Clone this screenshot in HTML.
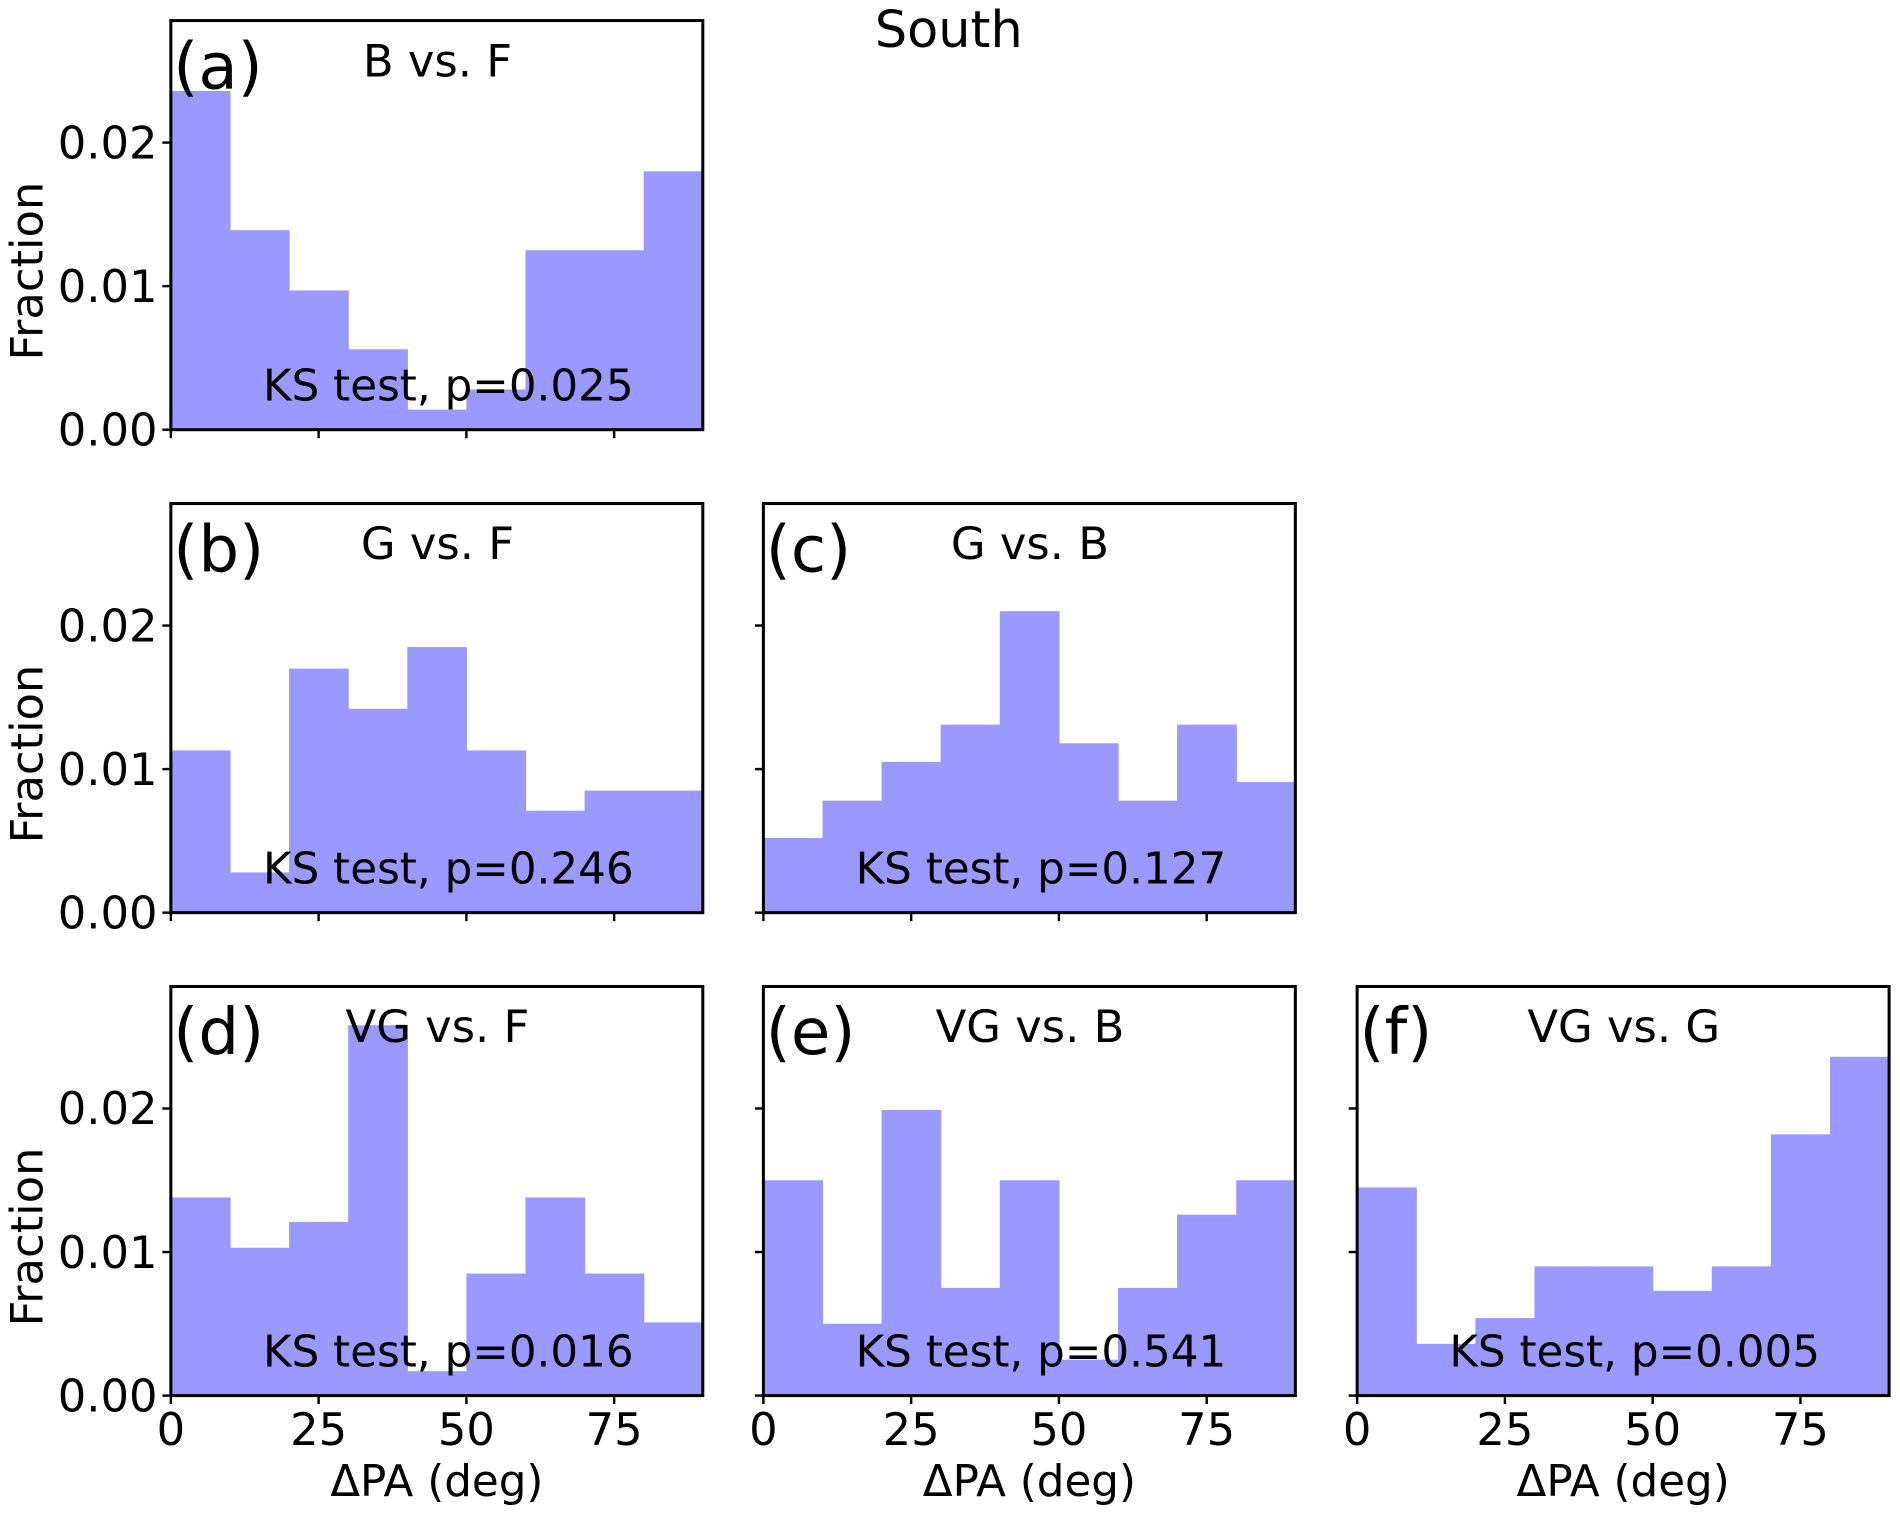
<!DOCTYPE html>
<html><head><meta charset="utf-8"><style>
html,body{margin:0;padding:0;background:#fff;}
svg{display:block;font-family:"DejaVu Sans","Liberation Sans",sans-serif;}
</style></head><body>
<svg id="fig" width="1900" height="1513" viewBox="0 0 1568 1250" preserveAspectRatio="none" xmlns="http://www.w3.org/2000/svg">
<text x="783" y="39" font-size="42" text-anchor="middle">South</text>
</svg>
<script>
const binEdges = [0,10,20,30,40,50,60,70,80,90];
const xTicks = [0,25,50,75];
const yTicks = [0,0.01,0.02];
const yTickLabels = ['0.00','0.01','0.02'];
const panelLetters = ['(a)','(b)','(c)','(d)','(e)','(f)'];
const panelTitles = ['B vs. F','G vs. F','G vs. B','VG vs. F','VG vs. B','VG vs. G'];
const ksLabels = ['KS test, p=0.025','KS test, p=0.246','KS test, p=0.127','KS test, p=0.016','KS test, p=0.541','KS test, p=0.005'];
const valsA = [0.0236,0.0139,0.0097,0.0056,0.0014,0.0028,0.0125,0.0125,0.0180];
const valsB = [0.0113,0.0028,0.0170,0.0142,0.0185,0.0113,0.0071,0.0085,0.0085];
const valsC = [0.0052,0.0078,0.0105,0.0131,0.0210,0.0118,0.0078,0.0131,0.0091];
const valsD = [0.0138,0.0103,0.0121,0.0258,0.0017,0.0085,0.0138,0.0085,0.0051];
const valsE = [0.0150,0.0050,0.0199,0.0075,0.0150,0.0025,0.0075,0.0126,0.0150];
const valsF = [0.0145,0.0036,0.0054,0.0090,0.0090,0.0073,0.0090,0.0182,0.0236];
const allVals = [valsA,valsB,valsC,valsD,valsE,valsF];

const NS='http://www.w3.org/2000/svg';
const svg=document.getElementById('fig');
const W=439, H=338, XMAX=90, YMAX=0.0285;
const layout=[[141,17,0,0],[141,416,1,0],[630,416,1,1],[141,815,2,0],[630,815,2,1],[1120,815,2,2]];
function mk(tag,attrs,parent){const e=document.createElementNS(NS,tag);for(const k in attrs)e.setAttribute(k,attrs[k]);(parent||svg).appendChild(e);return e;}
layout.forEach((L,i)=>{
  const [x0,y0,row,col]=L;
  const xs=v=>x0+v/XMAX*W;
  const ys=v=>y0+H-v/YMAX*H;
  const g=mk('g',{});
  
  
  allVals[i].forEach((v,j)=>{
    const r=mk('rect',{x:xs(binEdges[j]),y:ys(v),width:xs(binEdges[j+1])-xs(binEdges[j])+0.5,height:ys(0)-ys(v),fill:'#9999ff'},g);
    
    
  });
  const fr=mk('rect',{x:x0,y:y0,width:W,height:H,fill:'none',stroke:'#000','stroke-width':2.5},g);
  
  
  xTicks.forEach(t=>{
    mk('line',{x1:xs(t),x2:xs(t),y1:y0+H,y2:y0+H+7,stroke:'#000','stroke-width':2},g);
    if(row===2){const tx=mk('text',{x:xs(t),y:y0+H+41,'font-size':37,'text-anchor':'middle'},g);tx.textContent=t;
      
      }
  });
  yTicks.forEach((t,k)=>{
    mk('line',{x1:x0-7,x2:x0,y1:ys(t),y2:ys(t),stroke:'#000','stroke-width':2},g);
    if(col===0){const tx=mk('text',{x:x0-11,y:ys(t)+13,'font-size':37,'text-anchor':'end'},g);tx.textContent=yTickLabels[k];
      
      }
  });
  const lt=mk('text',{x:x0+2,y:y0+56,'font-size':53},g);lt.textContent=panelLetters[i];
  
  
  const tt=mk('text',{x:x0+220,y:y0+46,'font-size':37,'text-anchor':'middle'},g);tt.textContent=panelTitles[i];
  
  
  const ks=mk('text',{x:x0+229,y:y0+314,'font-size':36,'text-anchor':'middle'},g);ks.textContent=ksLabels[i];
  
  
  if(col===0){const yl=mk('text',{x:0,y:0,'font-size':37,'text-anchor':'middle',transform:'translate(35,'+(y0+207)+') rotate(-90)'},g);yl.textContent='Fraction';
    
    }
  if(row===2){const xl=mk('text',{x:x0+W/2,y:1236,'font-size':36,'text-anchor':'middle'},g);xl.textContent='\u0394PA (deg)';
    
    }
});
</script>
</body></html>
